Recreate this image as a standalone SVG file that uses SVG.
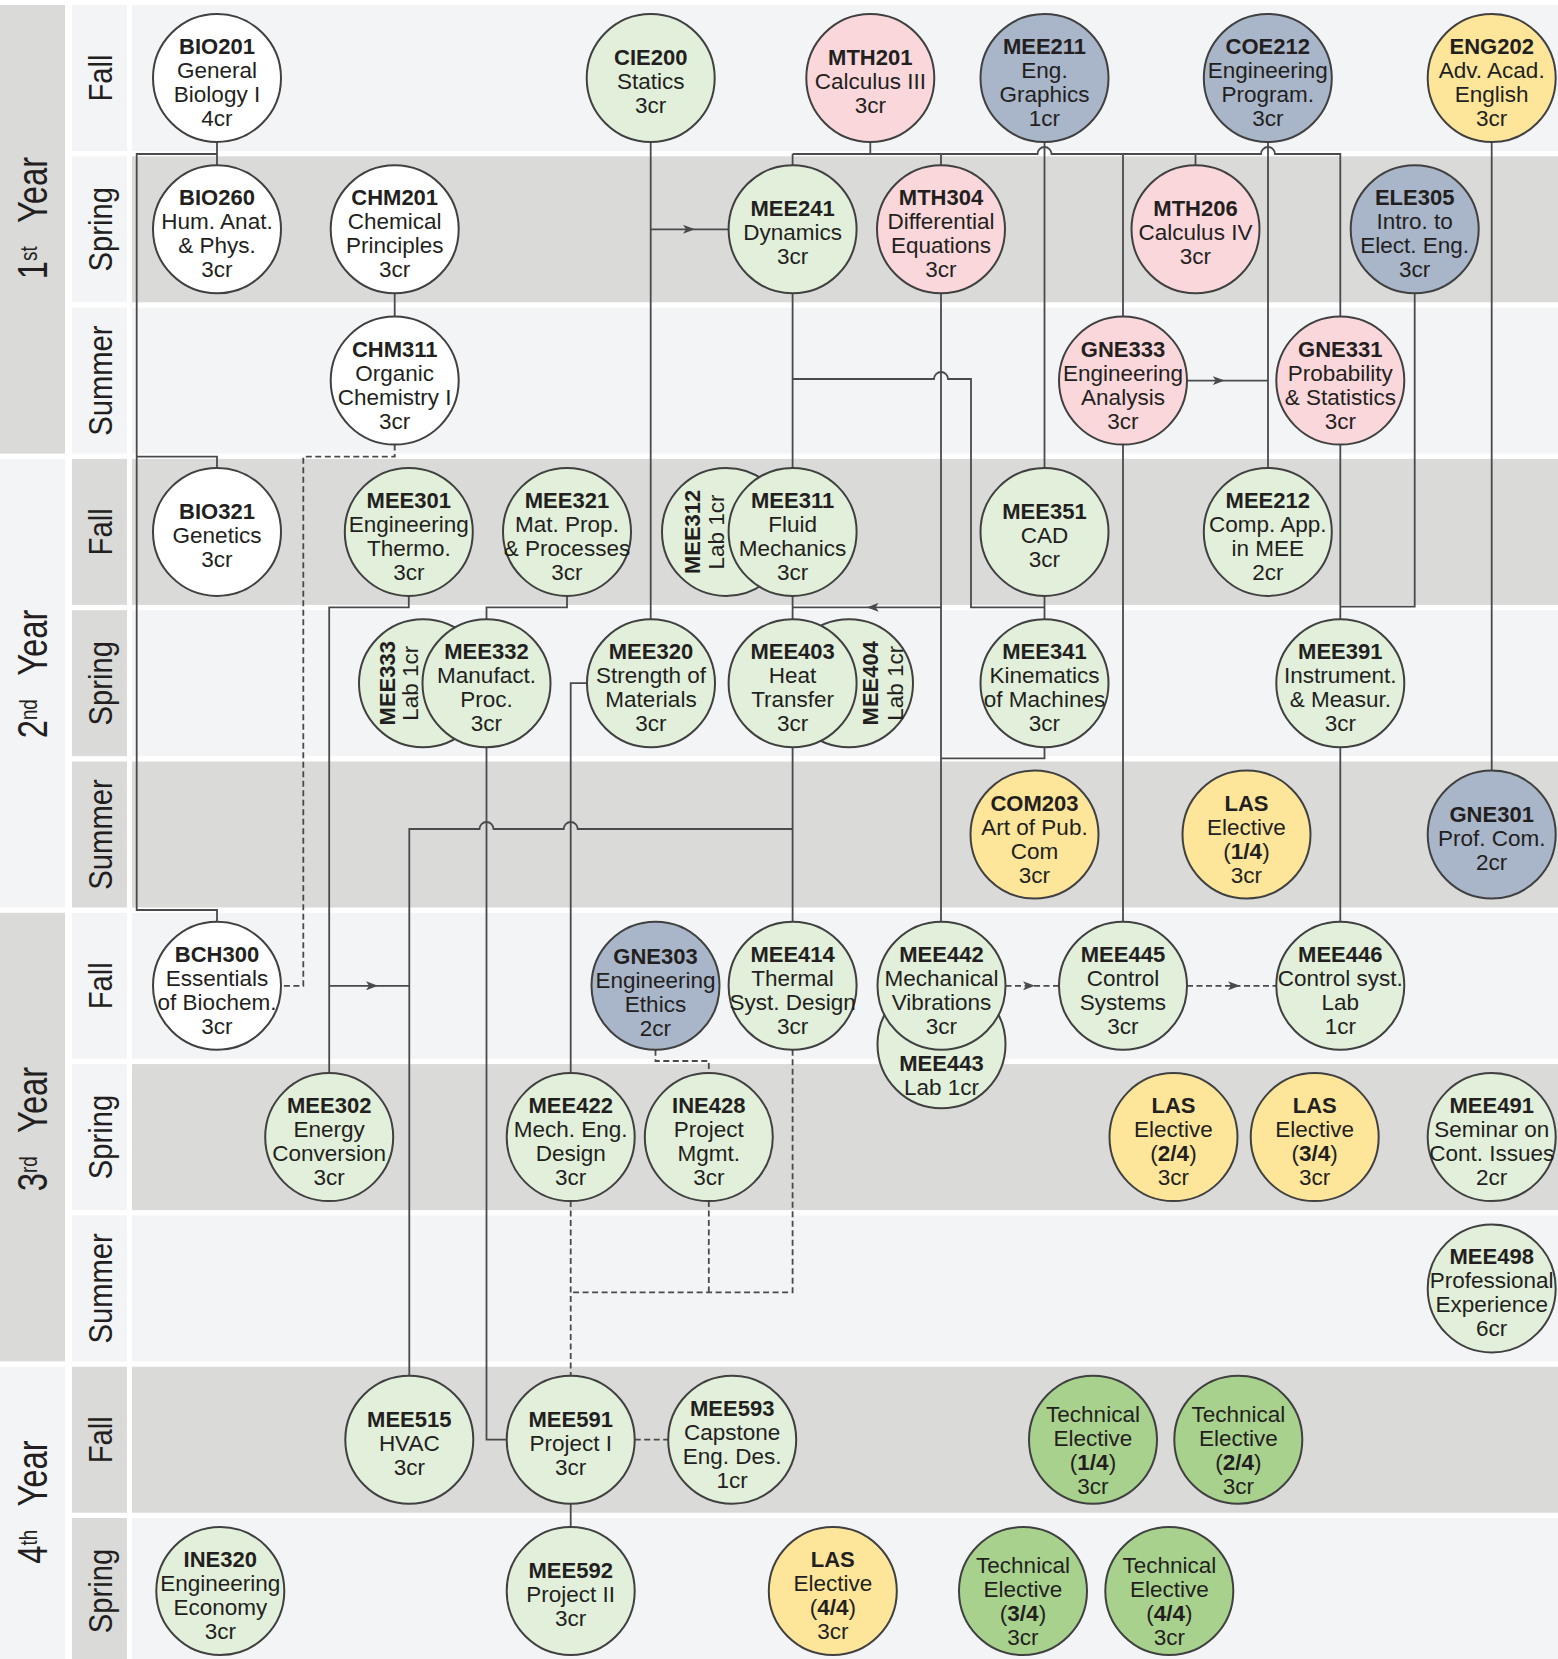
<svg xmlns="http://www.w3.org/2000/svg" width="1558" height="1659" viewBox="0 0 1558 1659">
<defs>
<style>
.L{fill:#f3f4f6}.D{fill:#dadad9}
.n circle{stroke:#404041;stroke-width:2}
.w{fill:#ffffff}.g{fill:#e2efda}.p{fill:#fad7db}.b{fill:#a9b5c9}.y{fill:#fde69a}.t{fill:#a9d18e}
text{font-family:"Liberation Sans",Arial,sans-serif;fill:#231f20;text-anchor:middle;font-size:22.5px}
.h{font-weight:bold;font-size:22px}
.sem{font-size:34px}
.yr{font-size:42px}
.c{fill:none;stroke:#4a4a4c;stroke-width:1.8}
.d{stroke-dasharray:6 3.5}
</style>
<marker id="ah" viewBox="0 0 12 9" refX="12" refY="4.5" markerWidth="12" markerHeight="9" markerUnits="userSpaceOnUse" orient="auto"><path d="M0,0 L12,4.5 L0,9 L3,4.5 Z" fill="#4a4a4c"/></marker>
</defs>
<rect width="1558" height="1659" fill="#ffffff"/>
<g id="background">
<rect x="132" y="5" width="1426" height="146" class="L"/>
<rect x="132" y="156.3" width="1426" height="146" class="D"/>
<rect x="132" y="307.6" width="1426" height="146" class="L"/>
<rect x="132" y="458.9" width="1426" height="146" class="D"/>
<rect x="132" y="610.2" width="1426" height="146" class="L"/>
<rect x="132" y="761.5" width="1426" height="146" class="D"/>
<rect x="132" y="912.8" width="1426" height="146" class="L"/>
<rect x="132" y="1064.1" width="1426" height="146" class="D"/>
<rect x="132" y="1215.4" width="1426" height="146" class="L"/>
<rect x="132" y="1366.7" width="1426" height="146" class="D"/>
<rect x="132" y="1518" width="1426" height="141" class="L"/>
<rect x="72" y="5" width="55" height="146" class="L"/>
<rect x="72" y="156.3" width="55" height="146" class="L"/>
<rect x="72" y="307.6" width="55" height="146" class="L"/>
<rect x="72" y="458.9" width="55" height="146" class="D"/>
<rect x="72" y="610.2" width="55" height="146" class="D"/>
<rect x="72" y="761.5" width="55" height="146" class="D"/>
<rect x="72" y="912.8" width="55" height="146" class="L"/>
<rect x="72" y="1064.1" width="55" height="146" class="L"/>
<rect x="72" y="1215.4" width="55" height="146" class="L"/>
<rect x="72" y="1366.7" width="55" height="146" class="D"/>
<rect x="72" y="1518" width="55" height="141" class="D"/>
<rect x="0" y="5" width="65" height="448.6" class="D"/>
<rect x="0" y="458.9" width="65" height="448.6" class="L"/>
<rect x="0" y="912.8" width="65" height="448.6" class="D"/>
<rect x="0" y="1366.7" width="65" height="292.3" class="L"/>
</g>
<g id="labels">
<text class="sem" transform="translate(112,78) rotate(-90) scale(0.86,1)">Fall</text>
<text class="sem" transform="translate(112,229.3) rotate(-90) scale(0.86,1)">Spring</text>
<text class="sem" transform="translate(112,380.6) rotate(-90) scale(0.86,1)">Summer</text>
<text class="sem" transform="translate(112,531.9) rotate(-90) scale(0.86,1)">Fall</text>
<text class="sem" transform="translate(112,683.2) rotate(-90) scale(0.86,1)">Spring</text>
<text class="sem" transform="translate(112,834.5) rotate(-90) scale(0.86,1)">Summer</text>
<text class="sem" transform="translate(112,985.8) rotate(-90) scale(0.86,1)">Fall</text>
<text class="sem" transform="translate(112,1137.1) rotate(-90) scale(0.86,1)">Spring</text>
<text class="sem" transform="translate(112,1288.4) rotate(-90) scale(0.86,1)">Summer</text>
<text class="sem" transform="translate(112,1439.7) rotate(-90) scale(0.86,1)">Fall</text>
<text class="sem" transform="translate(112,1591) rotate(-90) scale(0.86,1)">Spring</text>
<text class="yr" transform="translate(47,218) rotate(-90) scale(0.78,1)">1<tspan font-size="24" dy="-10">st</tspan><tspan dx="30" dy="10">Year</tspan></text>
<text class="yr" transform="translate(47,674) rotate(-90) scale(0.78,1)">2<tspan font-size="24" dy="-10">nd</tspan><tspan dx="30" dy="10">Year</tspan></text>
<text class="yr" transform="translate(47,1129) rotate(-90) scale(0.78,1)">3<tspan font-size="24" dy="-10">rd</tspan><tspan dx="30" dy="10">Year</tspan></text>
<text class="yr" transform="translate(47,1502) rotate(-90) scale(0.78,1)">4<tspan font-size="24" dy="-10">th</tspan><tspan dx="30" dy="10">Year</tspan></text>
</g>
<g id="connectors">
<path class="c" d="M217,142 V165.3 M217,154 H136.7 V910 H217 V921.8 M136.7,456.7 H217 V467.9"/>
<path class="c" d="M394.7,293.3 V316.6"/>
<path class="c d" d="M394.7,444.6 V456.7 H303.3 V985.8 H281"/>
<path class="c" d="M650.7,142 V619.2"/>
<path class="c" d="M650.7,229.3 L695,229.3 L728.6,229.3" marker-mid="url(#ah)"/>
<path class="c" d="M792.6,154 H1037.5 a7,7 0 0 1 14,0 H1261 a7,7 0 0 1 14,0 H1340.3 V316.6 M870.3,142 V154 M792.6,154 V165.3 M941,154 V165.3 M1123,154 V316.6 M1195.5,154 V165.3"/>
<path class="c" d="M1044.5,142 V467.9 M1268,142 V467.9"/>
<path class="c" d="M1187,380.6 L1224.7,380.6 L1268,380.6" marker-mid="url(#ah)"/>
<path class="c" d="M792.6,293.3 V467.9 M792.6,379 H934 a7,7 0 0 1 14,0 H971 V607.3 H1044.5"/>
<path class="c" d="M941,293.3 V921.8"/>
<path class="c" d="M941,607.3 L866.7,607.3 L792.6,607.3" marker-mid="url(#ah)"/>
<path class="c" d="M792.6,595.9 V619.2 M1044.5,595.9 V619.2 M1044.5,747.2 V758.3 H941"/>
<path class="c" d="M1123,444.6 V921.8 M1340.3,444.6 V619.2 M1340.3,747.2 V921.8 M1414.7,293.3 V606.7 H1340.3 M1491.7,142 V770.5"/>
<path class="c" d="M792.6,747.2 V921.8 M409.3,1375.7 V829 H479.5 a7,7 0 0 1 14,0 H563.7 a7,7 0 0 1 14,0 H792.6"/>
<path class="c" d="M408.8,595.9 V607.3 H329.2 V1073.1"/>
<path class="c" d="M329.2,985.8 L378,985.8 L409.3,985.8" marker-mid="url(#ah)"/>
<path class="c" d="M567,595.9 V607.3 H486.5 V619.2 M486.5,747.2 V1439.7 H506.7 M587,683.2 H570.7 V1073.1"/>
<path class="c d" d="M655.5,1049.8 V1061 H708.8 V1073.1 M570.7,1201.1 V1375.7 M708.8,1201.1 V1292.3 M792.6,1049.8 V1292.3 H570.7 M634.7,1439.7 H668.2"/>
<path class="c" d="M570.7,1503.7 V1527"/>
<path class="c d" d="M1005.5,985.8 L1035,985.8 L1059,985.8" marker-mid="url(#ah)"/>
<path class="c d" d="M1187,985.8 L1240,985.8 L1276.3,985.8" marker-mid="url(#ah)"/>
</g>
<g id="nodes">
<g id="BIO201" class="n"><circle class="w" cx="217" cy="78" r="64"/><text x="217" y="54"><tspan class="h">BIO201</tspan><tspan x="217" dy="24">General</tspan><tspan x="217" dy="24">Biology I</tspan><tspan x="217" dy="24">4cr</tspan></text></g>
<g id="CIE200" class="n"><circle class="g" cx="650.7" cy="78" r="64"/><text x="650.7" y="65"><tspan class="h">CIE200</tspan><tspan x="650.7" dy="24">Statics</tspan><tspan x="650.7" dy="24">3cr</tspan></text></g>
<g id="MTH201" class="n"><circle class="p" cx="870.3" cy="78" r="64"/><text x="870.3" y="65"><tspan class="h">MTH201</tspan><tspan x="870.3" dy="24">Calculus III</tspan><tspan x="870.3" dy="24">3cr</tspan></text></g>
<g id="MEE211" class="n"><circle class="b" cx="1044.5" cy="78" r="64"/><text x="1044.5" y="54"><tspan class="h">MEE211</tspan><tspan x="1044.5" dy="24">Eng.</tspan><tspan x="1044.5" dy="24">Graphics</tspan><tspan x="1044.5" dy="24">1cr</tspan></text></g>
<g id="COE212" class="n"><circle class="b" cx="1267.8" cy="78" r="64"/><text x="1267.8" y="54"><tspan class="h">COE212</tspan><tspan x="1267.8" dy="24">Engineering</tspan><tspan x="1267.8" dy="24">Program.</tspan><tspan x="1267.8" dy="24">3cr</tspan></text></g>
<g id="ENG202" class="n"><circle class="y" cx="1491.7" cy="78" r="64"/><text x="1491.7" y="54"><tspan class="h">ENG202</tspan><tspan x="1491.7" dy="24">Adv. Acad.</tspan><tspan x="1491.7" dy="24">English</tspan><tspan x="1491.7" dy="24">3cr</tspan></text></g>

<g id="BIO260" class="n"><circle class="w" cx="217" cy="229.3" r="64"/><text x="217" y="205.3"><tspan class="h">BIO260</tspan><tspan x="217" dy="24">Hum. Anat.</tspan><tspan x="217" dy="24">&amp; Phys.</tspan><tspan x="217" dy="24">3cr</tspan></text></g>
<g id="CHM201" class="n"><circle class="w" cx="394.7" cy="229.3" r="64"/><text x="394.7" y="205.3"><tspan class="h">CHM201</tspan><tspan x="394.7" dy="24">Chemical</tspan><tspan x="394.7" dy="24">Principles</tspan><tspan x="394.7" dy="24">3cr</tspan></text></g>
<g id="MEE241" class="n"><circle class="g" cx="792.6" cy="229.3" r="64"/><text x="792.6" y="216.3"><tspan class="h">MEE241</tspan><tspan x="792.6" dy="24">Dynamics</tspan><tspan x="792.6" dy="24">3cr</tspan></text></g>
<g id="MTH304" class="n"><circle class="p" cx="941" cy="229.3" r="64"/><text x="941" y="205.3"><tspan class="h">MTH304</tspan><tspan x="941" dy="24">Differential</tspan><tspan x="941" dy="24">Equations</tspan><tspan x="941" dy="24">3cr</tspan></text></g>
<g id="MTH206" class="n"><circle class="p" cx="1195.5" cy="229.3" r="64"/><text x="1195.5" y="216.3"><tspan class="h">MTH206</tspan><tspan x="1195.5" dy="24">Calculus IV</tspan><tspan x="1195.5" dy="24">3cr</tspan></text></g>
<g id="ELE305" class="n"><circle class="b" cx="1414.7" cy="229.3" r="64"/><text x="1414.7" y="205.3"><tspan class="h">ELE305</tspan><tspan x="1414.7" dy="24">Intro. to</tspan><tspan x="1414.7" dy="24">Elect. Eng.</tspan><tspan x="1414.7" dy="24">3cr</tspan></text></g>

<g id="CHM311" class="n"><circle class="w" cx="394.7" cy="380.6" r="64"/><text x="394.7" y="356.6"><tspan class="h">CHM311</tspan><tspan x="394.7" dy="24">Organic</tspan><tspan x="394.7" dy="24">Chemistry I</tspan><tspan x="394.7" dy="24">3cr</tspan></text></g>
<g id="GNE333" class="n"><circle class="p" cx="1123" cy="380.6" r="64"/><text x="1123" y="356.6"><tspan class="h">GNE333</tspan><tspan x="1123" dy="24">Engineering</tspan><tspan x="1123" dy="24">Analysis</tspan><tspan x="1123" dy="24">3cr</tspan></text></g>
<g id="GNE331" class="n"><circle class="p" cx="1340.3" cy="380.6" r="64"/><text x="1340.3" y="356.6"><tspan class="h">GNE331</tspan><tspan x="1340.3" dy="24">Probability</tspan><tspan x="1340.3" dy="24">&amp; Statistics</tspan><tspan x="1340.3" dy="24">3cr</tspan></text></g>

<g id="BIO321" class="n"><circle class="w" cx="217" cy="531.9" r="64"/><text x="217" y="518.9"><tspan class="h">BIO321</tspan><tspan x="217" dy="24">Genetics</tspan><tspan x="217" dy="24">3cr</tspan></text></g>
<g id="MEE301" class="n"><circle class="g" cx="408.8" cy="531.9" r="64"/><text x="408.8" y="507.9"><tspan class="h">MEE301</tspan><tspan x="408.8" dy="24">Engineering</tspan><tspan x="408.8" dy="24">Thermo.</tspan><tspan x="408.8" dy="24">3cr</tspan></text></g>
<g id="MEE321" class="n"><circle class="g" cx="567" cy="531.9" r="64"/><text x="567" y="507.9"><tspan class="h">MEE321</tspan><tspan x="567" dy="24">Mat. Prop.</tspan><tspan x="567" dy="24">&amp; Processes</tspan><tspan x="567" dy="24">3cr</tspan></text></g>
<g id="MEE312" class="n"><circle class="g" cx="726" cy="531.9" r="64"/><text class="h" transform="translate(700,531.9) rotate(-90)">MEE312</text><text transform="translate(724,531.9) rotate(-90)">Lab 1cr</text></g>
<g id="MEE311" class="n"><circle class="g" cx="792.6" cy="531.9" r="64"/><text x="792.6" y="507.9"><tspan class="h">MEE311</tspan><tspan x="792.6" dy="24">Fluid</tspan><tspan x="792.6" dy="24">Mechanics</tspan><tspan x="792.6" dy="24">3cr</tspan></text></g>
<g id="MEE351" class="n"><circle class="g" cx="1044.5" cy="531.9" r="64"/><text x="1044.5" y="518.9"><tspan class="h">MEE351</tspan><tspan x="1044.5" dy="24">CAD</tspan><tspan x="1044.5" dy="24">3cr</tspan></text></g>
<g id="MEE212" class="n"><circle class="g" cx="1267.8" cy="531.9" r="64"/><text x="1267.8" y="507.9"><tspan class="h">MEE212</tspan><tspan x="1267.8" dy="24">Comp. App.</tspan><tspan x="1267.8" dy="24">in MEE</tspan><tspan x="1267.8" dy="24">2cr</tspan></text></g>

<g id="MEE333" class="n"><circle class="g" cx="423" cy="683.2" r="64"/><text class="h" transform="translate(395,683.2) rotate(-90)">MEE333</text><text transform="translate(418,683.2) rotate(-90)">Lab 1cr</text></g>
<g id="MEE332" class="n"><circle class="g" cx="486.5" cy="683.2" r="64"/><text x="486.5" y="659.2"><tspan class="h">MEE332</tspan><tspan x="486.5" dy="24">Manufact.</tspan><tspan x="486.5" dy="24">Proc.</tspan><tspan x="486.5" dy="24">3cr</tspan></text></g>
<g id="MEE320" class="n"><circle class="g" cx="651" cy="683.2" r="64"/><text x="651" y="659.2"><tspan class="h">MEE320</tspan><tspan x="651" dy="24">Strength of</tspan><tspan x="651" dy="24">Materials</tspan><tspan x="651" dy="24">3cr</tspan></text></g>
<g id="MEE404" class="n"><circle class="g" cx="849" cy="683.2" r="64"/><text class="h" transform="translate(878,683.2) rotate(-90)">MEE404</text><text transform="translate(903,683.2) rotate(-90)">Lab 1cr</text></g>
<g id="MEE403" class="n"><circle class="g" cx="792.6" cy="683.2" r="64"/><text x="792.6" y="659.2"><tspan class="h">MEE403</tspan><tspan x="792.6" dy="24">Heat</tspan><tspan x="792.6" dy="24">Transfer</tspan><tspan x="792.6" dy="24">3cr</tspan></text></g>
<g id="MEE341" class="n"><circle class="g" cx="1044.5" cy="683.2" r="64"/><text x="1044.5" y="659.2"><tspan class="h">MEE341</tspan><tspan x="1044.5" dy="24">Kinematics</tspan><tspan x="1044.5" dy="24">of Machines</tspan><tspan x="1044.5" dy="24">3cr</tspan></text></g>
<g id="MEE391" class="n"><circle class="g" cx="1340.3" cy="683.2" r="64"/><text x="1340.3" y="659.2"><tspan class="h">MEE391</tspan><tspan x="1340.3" dy="24">Instrument.</tspan><tspan x="1340.3" dy="24">&amp; Measur.</tspan><tspan x="1340.3" dy="24">3cr</tspan></text></g>

<g id="COM203" class="n"><circle class="y" cx="1034.5" cy="834.5" r="64"/><text x="1034.5" y="810.5"><tspan class="h">COM203</tspan><tspan x="1034.5" dy="24">Art of Pub.</tspan><tspan x="1034.5" dy="24">Com</tspan><tspan x="1034.5" dy="24">3cr</tspan></text></g>
<g id="LAS1" class="n"><circle class="y" cx="1246.5" cy="834.5" r="64"/><text x="1246.5" y="810.5"><tspan class="h">LAS</tspan><tspan x="1246.5" dy="24">Elective</tspan><tspan x="1246.5" dy="24">(<tspan font-weight="bold">1/4</tspan>)</tspan><tspan x="1246.5" dy="24">3cr</tspan></text></g>
<g id="GNE301" class="n"><circle class="b" cx="1491.7" cy="834.5" r="64"/><text x="1491.7" y="821.5"><tspan class="h">GNE301</tspan><tspan x="1491.7" dy="24">Prof. Com.</tspan><tspan x="1491.7" dy="24">2cr</tspan></text></g>

<g id="BCH300" class="n"><circle class="w" cx="217" cy="985.8" r="64"/><text x="217" y="961.8"><tspan class="h">BCH300</tspan><tspan x="217" dy="24">Essentials</tspan><tspan x="217" dy="24">of Biochem.</tspan><tspan x="217" dy="24">3cr</tspan></text></g>
<g id="GNE303" class="n"><circle class="b" cx="655.5" cy="985.8" r="64"/><text x="655.5" y="963.8"><tspan class="h">GNE303</tspan><tspan x="655.5" dy="24">Engineering</tspan><tspan x="655.5" dy="24">Ethics</tspan><tspan x="655.5" dy="24">2cr</tspan></text></g>
<g id="MEE414" class="n"><circle class="g" cx="792.6" cy="985.8" r="64"/><text x="792.6" y="961.8"><tspan class="h">MEE414</tspan><tspan x="792.6" dy="24">Thermal</tspan><tspan x="792.6" dy="24">Syst. Design</tspan><tspan x="792.6" dy="24">3cr</tspan></text></g>
<g id="MEE443" class="n"><circle class="g" cx="941.5" cy="1044.3" r="64"/><text x="941.5" y="1070.7"><tspan class="h">MEE443</tspan><tspan x="941.5" dy="24.3">Lab 1cr</tspan></text></g>
<g id="MEE442" class="n"><circle class="g" cx="941.5" cy="985.8" r="64"/><text x="941.5" y="961.8"><tspan class="h">MEE442</tspan><tspan x="941.5" dy="24">Mechanical</tspan><tspan x="941.5" dy="24">Vibrations</tspan><tspan x="941.5" dy="24">3cr</tspan></text></g>
<g id="MEE445" class="n"><circle class="g" cx="1123" cy="985.8" r="64"/><text x="1123" y="961.8"><tspan class="h">MEE445</tspan><tspan x="1123" dy="24">Control</tspan><tspan x="1123" dy="24">Systems</tspan><tspan x="1123" dy="24">3cr</tspan></text></g>
<g id="MEE446" class="n"><circle class="g" cx="1340.3" cy="985.8" r="64"/><text x="1340.3" y="961.8"><tspan class="h">MEE446</tspan><tspan x="1340.3" dy="24">Control syst.</tspan><tspan x="1340.3" dy="24">Lab</tspan><tspan x="1340.3" dy="24">1cr</tspan></text></g>

<g id="MEE302" class="n"><circle class="g" cx="329.2" cy="1137.1" r="64"/><text x="329.2" y="1113.1"><tspan class="h">MEE302</tspan><tspan x="329.2" dy="24">Energy</tspan><tspan x="329.2" dy="24">Conversion</tspan><tspan x="329.2" dy="24">3cr</tspan></text></g>
<g id="MEE422" class="n"><circle class="g" cx="570.7" cy="1137.1" r="64"/><text x="570.7" y="1113.1"><tspan class="h">MEE422</tspan><tspan x="570.7" dy="24">Mech. Eng.</tspan><tspan x="570.7" dy="24">Design</tspan><tspan x="570.7" dy="24">3cr</tspan></text></g>
<g id="INE428" class="n"><circle class="g" cx="708.8" cy="1137.1" r="64"/><text x="708.8" y="1113.1"><tspan class="h">INE428</tspan><tspan x="708.8" dy="24">Project</tspan><tspan x="708.8" dy="24">Mgmt.</tspan><tspan x="708.8" dy="24">3cr</tspan></text></g>
<g id="LAS2" class="n"><circle class="y" cx="1173.5" cy="1137.1" r="64"/><text x="1173.5" y="1113.1"><tspan class="h">LAS</tspan><tspan x="1173.5" dy="24">Elective</tspan><tspan x="1173.5" dy="24">(<tspan font-weight="bold">2/4</tspan>)</tspan><tspan x="1173.5" dy="24">3cr</tspan></text></g>
<g id="LAS3" class="n"><circle class="y" cx="1314.7" cy="1137.1" r="64"/><text x="1314.7" y="1113.1"><tspan class="h">LAS</tspan><tspan x="1314.7" dy="24">Elective</tspan><tspan x="1314.7" dy="24">(<tspan font-weight="bold">3/4</tspan>)</tspan><tspan x="1314.7" dy="24">3cr</tspan></text></g>
<g id="MEE491" class="n"><circle class="g" cx="1491.7" cy="1137.1" r="64"/><text x="1491.7" y="1113.1"><tspan class="h">MEE491</tspan><tspan x="1491.7" dy="24">Seminar on</tspan><tspan x="1491.7" dy="24">Cont. Issues</tspan><tspan x="1491.7" dy="24">2cr</tspan></text></g>

<g id="MEE498" class="n"><circle class="g" cx="1491.7" cy="1288.4" r="64"/><text x="1491.7" y="1264.4"><tspan class="h">MEE498</tspan><tspan x="1491.7" dy="24">Professional</tspan><tspan x="1491.7" dy="24">Experience</tspan><tspan x="1491.7" dy="24">6cr</tspan></text></g>

<g id="MEE515" class="n"><circle class="g" cx="409.3" cy="1439.7" r="64"/><text x="409.3" y="1426.7"><tspan class="h">MEE515</tspan><tspan x="409.3" dy="24">HVAC</tspan><tspan x="409.3" dy="24">3cr</tspan></text></g>
<g id="MEE591" class="n"><circle class="g" cx="570.7" cy="1439.7" r="64"/><text x="570.7" y="1426.7"><tspan class="h">MEE591</tspan><tspan x="570.7" dy="24">Project I</tspan><tspan x="570.7" dy="24">3cr</tspan></text></g>
<g id="MEE593" class="n"><circle class="g" cx="732.2" cy="1439.7" r="64"/><text x="732.2" y="1415.7"><tspan class="h">MEE593</tspan><tspan x="732.2" dy="24">Capstone</tspan><tspan x="732.2" dy="24">Eng. Des.</tspan><tspan x="732.2" dy="24">1cr</tspan></text></g>
<g id="TE1" class="n"><circle class="t" cx="1093" cy="1439.7" r="64"/><text x="1093" y="1421.7"><tspan>Technical</tspan><tspan x="1093" dy="24">Elective</tspan><tspan x="1093" dy="24">(<tspan font-weight="bold">1/4</tspan>)</tspan><tspan x="1093" dy="24">3cr</tspan></text></g>
<g id="TE2" class="n"><circle class="t" cx="1238.3" cy="1439.7" r="64"/><text x="1238.3" y="1421.7"><tspan>Technical</tspan><tspan x="1238.3" dy="24">Elective</tspan><tspan x="1238.3" dy="24">(<tspan font-weight="bold">2/4</tspan>)</tspan><tspan x="1238.3" dy="24">3cr</tspan></text></g>

<g id="INE320" class="n"><circle class="g" cx="220.3" cy="1591" r="64"/><text x="220.3" y="1567"><tspan class="h">INE320</tspan><tspan x="220.3" dy="24">Engineering</tspan><tspan x="220.3" dy="24">Economy</tspan><tspan x="220.3" dy="24">3cr</tspan></text></g>
<g id="MEE592" class="n"><circle class="g" cx="570.7" cy="1591" r="64"/><text x="570.7" y="1578"><tspan class="h">MEE592</tspan><tspan x="570.7" dy="24">Project II</tspan><tspan x="570.7" dy="24">3cr</tspan></text></g>
<g id="LAS4" class="n"><circle class="y" cx="832.8" cy="1591" r="64"/><text x="832.8" y="1567"><tspan class="h">LAS</tspan><tspan x="832.8" dy="24">Elective</tspan><tspan x="832.8" dy="24">(<tspan font-weight="bold">4/4</tspan>)</tspan><tspan x="832.8" dy="24">3cr</tspan></text></g>
<g id="TE3" class="n"><circle class="t" cx="1023" cy="1591" r="64"/><text x="1023" y="1573"><tspan>Technical</tspan><tspan x="1023" dy="24">Elective</tspan><tspan x="1023" dy="24">(<tspan font-weight="bold">3/4</tspan>)</tspan><tspan x="1023" dy="24">3cr</tspan></text></g>
<g id="TE4" class="n"><circle class="t" cx="1169.3" cy="1591" r="64"/><text x="1169.3" y="1573"><tspan>Technical</tspan><tspan x="1169.3" dy="24">Elective</tspan><tspan x="1169.3" dy="24">(<tspan font-weight="bold">4/4</tspan>)</tspan><tspan x="1169.3" dy="24">3cr</tspan></text></g>
</g>
</svg>
